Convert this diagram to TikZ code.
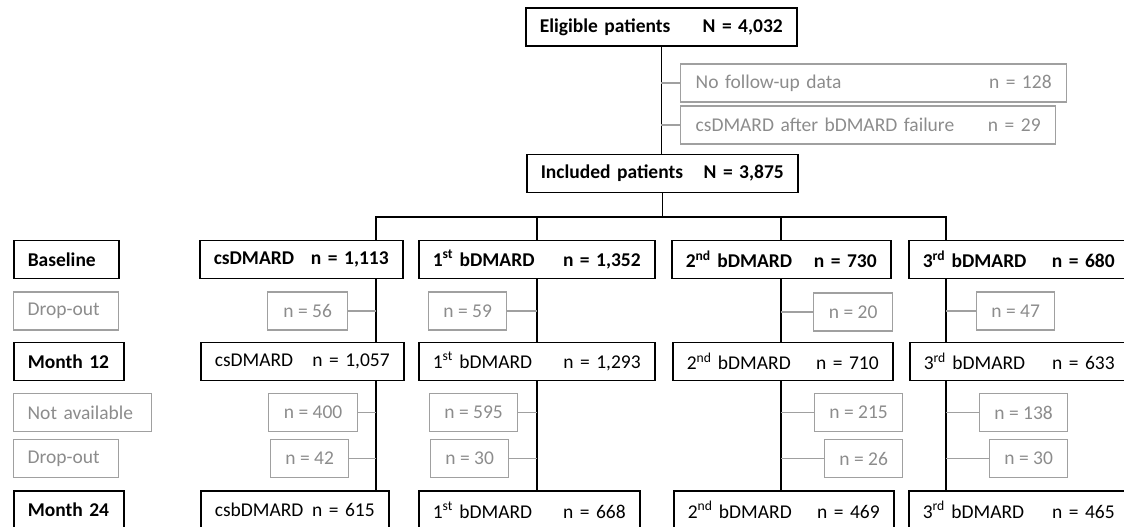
\documentclass[tikz,border=0pt]{standalone}
\usepackage{fontspec}
\setmainfont{Carlito}
\definecolor{greyline}{HTML}{A0A0A0}
\definecolor{greytext}{HTML}{8C8C8C}

\begin{document}
\begin{tikzpicture}[x=1pt,y=-1pt,
   every node/.style={font=\fontsize{19.5}{24}\selectfont},
   box/.style={draw=black,line width=1.5pt,anchor=west,minimum height=38pt,inner xsep=14pt,inner ysep=0pt},
   gbox/.style={draw=greyline,line width=1.3pt,text=greytext,anchor=west,minimum height=38pt,inner xsep=14pt,inner ysep=0pt},
   nbox/.style={gbox,inner xsep=6pt},
   mainline/.style={line width=1.5pt},
   sideline/.style={draw=greyline,line width=1.3pt}]
   \useasboundingbox (0,0) rectangle (1124,527);
   \clip (0,0) rectangle (1124,527);

   \node[box,text width=243pt] (elig) at (525,27) {\textbf{Eligible patients}\hfill\textbf{N = 4,032}};
   \node[gbox,inner xsep=15pt,text width=356pt] (nofu) at (680,83) {No follow-up data\hfill n = 128};
   \node[gbox,inner xsep=15pt,text width=345pt] (csafter) at (680,125) {csDMARD after bDMARD failure\hfill n = 29};
   \node[box,text width=243pt] (incl) at (526,173.5) {\textbf{Included patients}\hfill\textbf{N = 3,875}};

   \node[box,text width=77pt] (lbase) at (13,259.5) {\textbf{Baseline}};
   \node[gbox,text width=77pt] (ldrop1) at (13,311) {Drop-out};
   \node[box,text width=82pt] (lm12) at (13,361.5) {\textbf{Month~12}};
   \node[gbox,text width=110pt] (lna) at (13,412.5) {Not~available};
   \node[gbox,text width=77pt] (ldrop2) at (13,458.5) {Drop-out};
   \node[box,text width=82pt] (lm24) at (13,510) {\textbf{Month~24}};

   \begin{scope}
    \node[box,text width=175pt] (cs0) at (199,259.5) {\textbf{csDMARD}\hfill\textbf{n = 1,113}};
    \node[nbox,minimum width=80pt] (csd1) at (267,311) {n = 56};
    \node[box,text width=175pt] (cs12) at (200,361.5) {csDMARD\hfill n = 1,057};
    \node[nbox,minimum width=89pt] (csna) at (268,412.5) {n = 400};
    \node[nbox,minimum width=78pt] (csd2) at (270,458.5) {n = 42};
    \node[box,text width=160pt] (cs24) at (200,510) {csbDMARD\hfill n = 615};
   \end{scope}
   \begin{scope}
    \node[box,text width=208pt] (bi0) at (418,259.5) {\textbf{1\textsuperscript{st} bDMARD}\hfill\textbf{n = 1,352}};
    \node[nbox,minimum width=78pt] (bid1) at (428,311) {n = 59};
    \node[box,text width=208pt] (bi12) at (418,361.5) {1\textsuperscript{st} bDMARD\hfill n = 1,293};
    \node[nbox,minimum width=88pt] (bina) at (429,412.5) {n = 595};
    \node[nbox,minimum width=78pt] (bid2) at (430,458.5) {n = 30};
    \node[box,text width=193pt] (bi24) at (418,510) {1\textsuperscript{st} bDMARD\hfill n = 668};
   \end{scope}
   \begin{scope}
    \node[box,text width=191pt] (bii0) at (671,259.5) {\textbf{2\textsuperscript{nd} bDMARD}\hfill\textbf{n = 730}};
    \node[nbox,minimum width=79pt] (biid1) at (813,312) {n = 20};
    \node[box,text width=192pt] (bii12) at (672,361.5) {2\textsuperscript{nd} bDMARD\hfill n = 710};
    \node[nbox,minimum width=88pt] (biina) at (814,412.5) {n = 215};
    \node[nbox,minimum width=78pt] (biid2) at (824,458.5) {n = 26};
    \node[box,text width=192pt] (bii24) at (673,510) {2\textsuperscript{nd} bDMARD\hfill n = 469};
   \end{scope}
   \begin{scope}
    \node[box,text width=192pt] (biii0) at (908,259.5) {\textbf{3\textsuperscript{rd} bDMARD}\hfill\textbf{n = 680}};
    \node[nbox,minimum width=78pt] (biiid1) at (976,311) {n = 47};
    \node[box,text width=191pt] (biii12) at (909,361.5) {3\textsuperscript{rd} bDMARD\hfill n = 633};
    \node[nbox,minimum width=88pt] (biiina) at (979,412.5) {n = 138};
    \node[nbox,minimum width=78pt] (biiid2) at (989,458.5) {n = 30};
    \node[box,text width=192pt] (biii24) at (908,510) {3\textsuperscript{rd} bDMARD\hfill n = 465};
   \end{scope}

   \coordinate (br1) at (376,217);
   \coordinate (br2) at (537,217);
   \coordinate (br3) at (781,217);
   \coordinate (br4) at (946,217);

   \draw[mainline] (elig.south) -- (elig.south |- incl.north);
   \draw[sideline] (nofu.west) -- (nofu.west -| elig.south);
   \draw[sideline] (csafter.west) -- (csafter.west -| elig.south);
   \draw[mainline] (incl.south) -- (incl.south |- br1);
   \draw[mainline] (br1 |- cs0.north) -- (br1) -- (br4) -- (br4 |- biii0.north);
   \draw[mainline] (br2) -- (br2 |- bi0.north);
   \draw[mainline] (br3) -- (br3 |- bii0.north);

   \draw[mainline] (br1 |- cs0.south) -- (br1 |- cs12.north);
   \draw[mainline] (br1 |- cs12.south) -- (br1 |- cs24.north);
   \draw[sideline] (csd1.east) -- (csd1.east -| br1);
   \draw[sideline] (csna.east) -- (csna.east -| br1);
   \draw[sideline] (csd2.east) -- (csd2.east -| br1);

   \draw[mainline] (br2 |- bi0.south) -- (br2 |- bi12.north);
   \draw[mainline] (br2 |- bi12.south) -- (br2 |- bi24.north);
   \draw[sideline] (bid1.east) -- (bid1.east -| br2);
   \draw[sideline] (bina.east) -- (bina.east -| br2);
   \draw[sideline] (bid2.east) -- (bid2.east -| br2);

   \draw[mainline] (br3 |- bii0.south) -- (br3 |- bii12.north);
   \draw[mainline] (br3 |- bii12.south) -- (br3 |- bii24.north);
   \draw[sideline] (biid1.west) -- (biid1.west -| br3);
   \draw[sideline] (biina.west) -- (biina.west -| br3);
   \draw[sideline] (biid2.west) -- (biid2.west -| br3);

   \draw[mainline] (br4 |- biii0.south) -- (br4 |- biii12.north);
   \draw[mainline] (br4 |- biii12.south) -- (br4 |- biii24.north);
   \draw[sideline] (biiid1.west) -- (biiid1.west -| br4);
   \draw[sideline] (biiina.west) -- (biiina.west -| br4);
   \draw[sideline] (biiid2.west) -- (biiid2.west -| br4);
\end{tikzpicture}
\end{document}
